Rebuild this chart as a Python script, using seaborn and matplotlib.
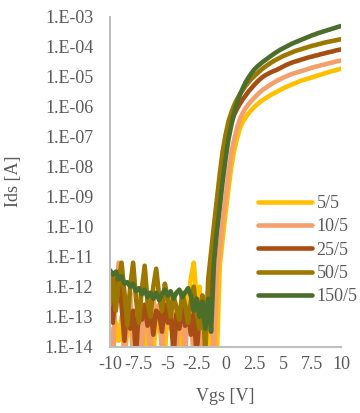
import numpy as np
import pandas as pd
import matplotlib
matplotlib.use("Agg")
import matplotlib.pyplot as plt
import matplotlib.ticker as mticker
from matplotlib.lines import Line2D
import seaborn as sns

# Gate voltage sweep (V)
vgs = np.linspace(-10, 10, 81)

series_names = ["5/5", "10/5", "25/5", "50/5", "150/5"]
series_colors = ["#FFC000", "#F4A06A", "#A64E14", "#9C7800", "#4B6E2A"]

# log10(Ids [A])
log_ids_5_5 = [
    -13.4, -14.3, -13.2, -13.8, -13.0, -14.3, -13.5, -12.9, -14.3, -13.3,
    -13.7, -12.9, -14.3, -13.1, -13.6, -14.3, -13.0, -13.5, -12.8, -14.3,
    -12.6, -12.4, -13.6, -12.7, -13.0, -14.3, -12.2, -12.6, -11.7, -11.2,
    -12.4, -12.0, -13.2, -12.5, -13.5, -14.3, -13.4, -14.3, -11.3, -10.4,
    -9.55, -8.75, -8.0, -7.45, -7.05, -6.72, -6.5, -6.35, -6.22, -6.11,
    -6.01, -5.92, -5.84, -5.77, -5.71, -5.65, -5.59, -5.54, -5.49, -5.44,
    -5.39, -5.34, -5.3, -5.26, -5.22, -5.18, -5.14, -5.11, -5.08, -5.05,
    -5.02, -4.99, -4.96, -4.93, -4.9, -4.87, -4.84, -4.81, -4.79, -4.76, -4.73,
]
log_ids_10_5 = [
    -13.5, -14.3, -12.3, -11.2, -12.5, -14.3, -12.8, -12.2, -14.3, -12.9,
    -12.3, -14.3, -12.6, -12.9, -14.3, -12.4, -13.0, -12.6, -14.3, -12.7,
    -12.3, -13.4, -12.6, -14.3, -12.8, -12.5, -14.3, -12.7, -13.2, -14.3,
    -12.8, -12.5, -14.3, -12.9, -13.4, -12.8, -14.3, -11.6, -10.75, -9.85,
    -9.05, -8.25, -7.55, -7.08, -6.7, -6.4, -6.2, -6.04, -5.91, -5.8,
    -5.7, -5.6, -5.51, -5.43, -5.37, -5.3, -5.24, -5.18, -5.13, -5.08,
    -5.03, -4.99, -4.95, -4.91, -4.88, -4.85, -4.82, -4.79, -4.76, -4.73,
    -4.7, -4.67, -4.65, -4.62, -4.6, -4.57, -4.55, -4.53, -4.5, -4.48, -4.46,
]
log_ids_25_5 = [
    -12.3, -13.2, -12.0, -11.5, -12.6, -13.8, -12.5, -13.4, -12.8, -14.3,
    -12.7, -13.1, -12.6, -13.3, -12.7, -13.6, -12.8, -12.9, -13.5, -12.6,
    -13.2, -12.8, -14.3, -12.9, -13.4, -12.7, -13.3, -12.8, -13.6, -12.9,
    -14.3, -12.9, -12.3, -13.2, -12.6, -11.3, -10.4, -9.6, -8.75, -7.95,
    -7.25, -6.8, -6.5, -6.27, -6.07, -5.9, -5.75, -5.62, -5.49, -5.38,
    -5.27, -5.17, -5.08, -5.0, -4.94, -4.89, -4.84, -4.8, -4.76, -4.71,
    -4.66, -4.61, -4.57, -4.53, -4.5, -4.47, -4.44, -4.41, -4.38, -4.35,
    -4.33, -4.3, -4.28, -4.25, -4.23, -4.2, -4.18, -4.16, -4.13, -4.11, -4.09,
]
log_ids_50_5 = [
    -12.6, -11.7, -12.8, -11.9, -11.2, -12.2, -13.3, -12.0, -11.2, -12.4,
    -13.2, -12.1, -11.3, -12.5, -13.0, -12.0, -11.4, -12.3, -12.8, -11.9,
    -12.4, -13.0, -12.3, -12.7, -13.1, -12.2, -12.6, -13.2, -12.5, -12.0,
    -12.9, -13.4, -12.3, -14.2, -11.75, -10.85, -9.95, -9.1, -8.25, -7.5,
    -6.95, -6.5, -6.2, -5.95, -5.75, -5.58, -5.44, -5.3, -5.18, -5.07,
    -4.98, -4.89, -4.8, -4.72, -4.65, -4.58, -4.52, -4.46, -4.41, -4.36,
    -4.31, -4.27, -4.23, -4.19, -4.15, -4.12, -4.09, -4.06, -4.03, -4.0,
    -3.97, -3.95, -3.92, -3.9, -3.87, -3.85, -3.83, -3.81, -3.79, -3.77, -3.75,
]
log_ids_150_5 = [
    -11.45, -11.6, -11.5, -11.75, -11.65, -11.9, -11.85, -12.0, -11.9, -12.15,
    -12.05, -12.25, -12.1, -12.35, -12.2, -12.4, -12.2, -12.45, -12.25, -12.1,
    -12.3, -12.15, -12.4, -12.2, -12.1, -12.35, -12.2, -12.05, -12.3, -12.8,
    -12.4, -13.0, -12.5, -13.4, -12.4, -13.5, -11.2, -10.2, -9.35, -8.5,
    -7.75, -7.1, -6.62, -6.2, -5.88, -5.6, -5.38, -5.18, -5.02, -4.88,
    -4.76, -4.66, -4.58, -4.5, -4.43, -4.36, -4.29, -4.22, -4.16, -4.1,
    -4.05, -4.0, -3.95, -3.9, -3.86, -3.82, -3.78, -3.74, -3.7, -3.66,
    -3.62, -3.59, -3.55, -3.52, -3.49, -3.46, -3.43, -3.4, -3.37, -3.34, -3.31,
]

all_logs = [log_ids_5_5, log_ids_10_5, log_ids_25_5, log_ids_50_5, log_ids_150_5]
frames = []
for name, lg in zip(series_names, all_logs):
    frames.append(pd.DataFrame({"Vgs": vgs, "Ids": 10.0 ** np.asarray(lg), "W/L": name}))
df = pd.concat(frames, ignore_index=True)

sns.set_style("white")
plt.rcParams["font.family"] = ["Liberation Serif", "DejaVu Serif"]
plt.rcParams["axes.unicode_minus"] = False

LW = 3.3
fig = plt.figure(figsize=(3.6, 4.13), dpi=100)
ax = fig.add_axes([0.3056, 0.1605, 0.6417, 0.7991])

sns.lineplot(data=df, x="Vgs", y="Ids", hue="W/L", hue_order=series_names,
             palette=series_colors, linewidth=LW, errorbar=None, ax=ax,
             legend=False)
for ln in ax.get_lines():
    ln.set_solid_capstyle("round")
    ln.set_solid_joinstyle("round")

ax.set_yscale("log")
ax.set_ylim(1e-14, 1e-3)
ax.set_xlim(-10, 10)

ax.yaxis.set_major_locator(mticker.LogLocator(base=10, numticks=20))
ax.yaxis.set_minor_locator(mticker.LogLocator(base=10, subs=np.arange(2, 10), numticks=20))
ax.yaxis.set_major_formatter(mticker.FuncFormatter(
    lambda v, p: "1.E-%02d" % int(round(-np.log10(v)))))
ax.yaxis.set_minor_formatter(mticker.NullFormatter())

ax.xaxis.set_major_locator(mticker.MultipleLocator(2.5))
ax.xaxis.set_minor_locator(mticker.MultipleLocator(0.5))
ax.xaxis.set_major_formatter(mticker.FuncFormatter(lambda v, p: "%g" % v))

gray = "#BFBFBF"
txt = "#595959"
for s in ["top", "right"]:
    ax.spines[s].set_visible(False)
for s in ["left", "bottom"]:
    ax.spines[s].set_color(gray)
    ax.spines[s].set_linewidth(1.5)

ax.tick_params(axis="both", which="both", direction="in", color=gray,
               labelcolor=txt, labelsize=13)
ax.tick_params(axis="y", which="major", length=4, width=1, pad=12)
ax.tick_params(axis="y", which="minor", length=2.5, width=0.8)
ax.tick_params(axis="x", which="major", length=3, width=1, pad=7)
ax.tick_params(axis="x", which="minor", length=3, width=0.8)

ax.set_xlabel("Vgs [V]", fontsize=13, color=txt)
ax.set_ylabel("Ids [A]", fontsize=13, color=txt)
ax.xaxis.set_label_coords(0.5, -0.125)
ax.yaxis.set_label_coords(-0.38, 0.5)

handles = [Line2D([], [], color=c, linewidth=LW, solid_capstyle="round")
           for c in series_colors]
ax.legend(handles, series_names, loc="upper left", bbox_to_anchor=(0.64, 0.46),
          frameon=False, fontsize=13, handlelength=3.0, handletextpad=0.25,
          labelspacing=0.35, borderpad=0, borderaxespad=0, labelcolor=txt)

fig.savefig("out.png", dpi=100, facecolor="white")
